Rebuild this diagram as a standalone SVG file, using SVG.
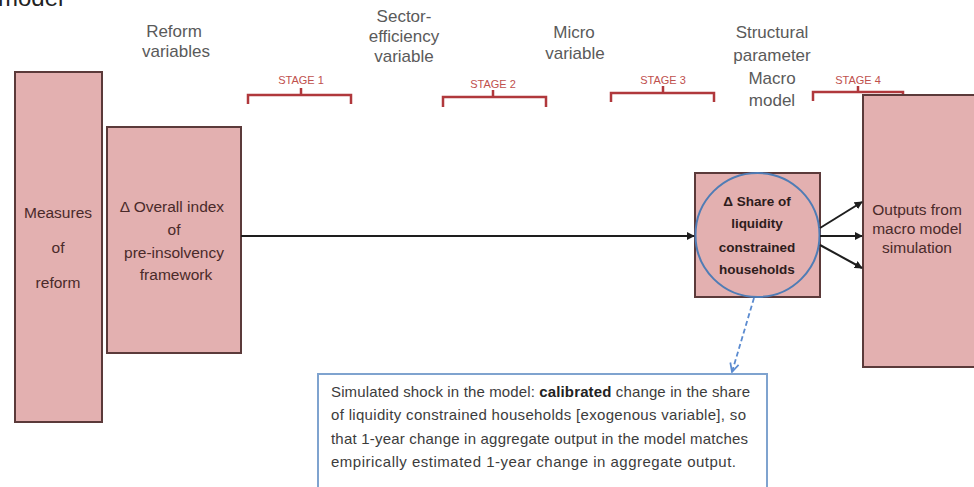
<svg xmlns="http://www.w3.org/2000/svg" width="974" height="487" viewBox="0 0 974 487">
  <style>
    .hdr { font-family: "Liberation Sans", Arial, sans-serif; font-size: 17px; fill: #5a5a5a; text-anchor: middle; }
    .stage { font-family: "Liberation Sans", Arial, sans-serif; font-size: 11px; fill: #c0504d; text-anchor: middle; }
    .brace { fill: none; stroke: #b0383c; stroke-width: 2.5; }
    .box { fill: #e3b0b0; stroke: #5b3a3a; stroke-width: 2; }
    .lbl { font-family: "Liberation Sans", Arial, sans-serif; font-size: 15.5px; fill: #4a2a2a; text-anchor: middle; }
    .blbl { font-family: "Liberation Sans", Arial, sans-serif; font-size: 13.5px; font-weight: bold; fill: #2e1c1c; text-anchor: middle; }
    .note { font-family: "Liberation Sans", Arial, sans-serif; font-size: 15px; fill: #3c3c3c; }
    .link { fill: none; stroke: #1e1e1e; stroke-width: 2; }
    .dash { fill: none; stroke: #5b8bd0; stroke-width: 1.8; stroke-dasharray: 5 3; }
  </style>
  <defs>
    <marker id="arr" viewBox="0 0 10 10" refX="9" refY="5" markerWidth="4" markerHeight="4" orient="auto">
      <path d="M0 0 L10 5 L0 10 Z" fill="#1e1e1e"/>
    </marker>
    <marker id="open" viewBox="0 0 10 10" refX="9" refY="5" markerWidth="6" markerHeight="6" orient="auto">
      <path d="M1 1 L9 5 L1 9" fill="none" stroke="#5b8bd0" stroke-width="1.6"/>
    </marker>
  </defs>

  <rect width="974" height="487" fill="#ffffff"/>

  <!-- caption fragment at the top edge -->
  <text x="-2" y="6" font-family="Liberation Sans, Arial, sans-serif" font-size="24" fill="#222">model</text>

  <!-- column headings -->
  <g id="headings">
    <text class="hdr" x="174" y="37">Reform</text>
    <text class="hdr" x="176" y="57">variables</text>
    <text class="hdr" x="404" y="22">Sector-</text>
    <text class="hdr" x="404" y="42">efficiency</text>
    <text class="hdr" x="404" y="62">variable</text>
    <text class="hdr" x="574" y="38">Micro</text>
    <text class="hdr" x="575" y="59">variable</text>
    <text class="hdr" x="772" y="38">Structural</text>
    <text class="hdr" x="772" y="61">parameter</text>
    <text class="hdr" x="772" y="84">Macro</text>
    <text class="hdr" x="772" y="106">model</text>
  </g>

  <!-- stage braces -->
  <g id="stages">
    <text class="stage" x="301" y="84">STAGE 1</text>
    <path class="brace" d="M248 104 V95 H351 V104 M301 95 V88"/>
    <text class="stage" x="493" y="88">STAGE 2</text>
    <path class="brace" d="M443 107 V97 H546 V107 M493 97 V90"/>
    <text class="stage" x="663" y="84">STAGE 3</text>
    <path class="brace" d="M611 102 V93 H714 V102 M663 93 V86"/>
    <text class="stage" x="858" y="84">STAGE 4</text>
    <path class="brace" d="M813 101 V92 H903 V101 M858 92 V86"/>
  </g>

  <g id="measures">
    <rect class="box" x="15" y="72" width="87" height="350"/>
    <text class="lbl" x="58" y="218">Measures</text>
    <text class="lbl" x="58" y="253">of</text>
    <text class="lbl" x="58" y="288">reform</text>
  </g>

  <g id="overall-index">
    <rect class="box" x="107" y="127" width="134" height="226"/>
    <text class="lbl" x="172" y="212">Δ Overall index</text>
    <text class="lbl" x="174" y="235">of</text>
    <text class="lbl" x="174" y="258">pre-insolvency</text>
    <text class="lbl" x="176" y="280">framework</text>
  </g>

  <g id="liquidity-share">
    <rect class="box" x="695" y="173" width="125" height="124"/>
    <circle cx="757.5" cy="235" r="62" fill="#e3b0b0" stroke="#4f7cb5" stroke-width="2"/>
    <text class="blbl" x="757" y="206">Δ Share of</text>
    <text class="blbl" x="757" y="228">liquidity</text>
    <text class="blbl" x="757" y="252">constrained</text>
    <text class="blbl" x="757" y="274">households</text>
  </g>

  <g id="outputs">
    <rect class="box" x="863" y="95" width="120" height="272"/>
    <text class="lbl" x="917" y="215">Outputs from</text>
    <text class="lbl" x="917" y="234">macro model</text>
    <text class="lbl" x="917" y="253">simulation</text>
  </g>

  <g id="shock-note">
    <rect x="318" y="374" width="449" height="130" fill="#ffffff" stroke="#7fa3cf" stroke-width="2"/>
    <text class="note" x="331" y="397" textLength="419" lengthAdjust="spacing">Simulated shock in the model: <tspan font-weight="bold" fill="#222">calibrated</tspan> change in the share</text>
    <text class="note" x="331" y="420" textLength="415" lengthAdjust="spacing">of liquidity constrained households [exogenous variable], so</text>
    <text class="note" x="331" y="444" textLength="417" lengthAdjust="spacing">that 1-year change in aggregate  output in the model matches</text>
    <text class="note" x="331" y="467" textLength="405" lengthAdjust="spacing">empirically estimated 1-year change in aggregate output.</text>
  </g>

  <g id="connectors">
    <line class="link" x1="241" y1="236" x2="694" y2="236" marker-end="url(#arr)"/>
    <line class="link" x1="820" y1="228" x2="862" y2="202" marker-end="url(#arr)"/>
    <line class="link" x1="820" y1="236" x2="862" y2="236" marker-end="url(#arr)"/>
    <line class="link" x1="820" y1="245" x2="862" y2="268" marker-end="url(#arr)"/>
    <line class="dash" x1="754" y1="298" x2="732" y2="372" marker-end="url(#open)"/>
  </g>
</svg>
